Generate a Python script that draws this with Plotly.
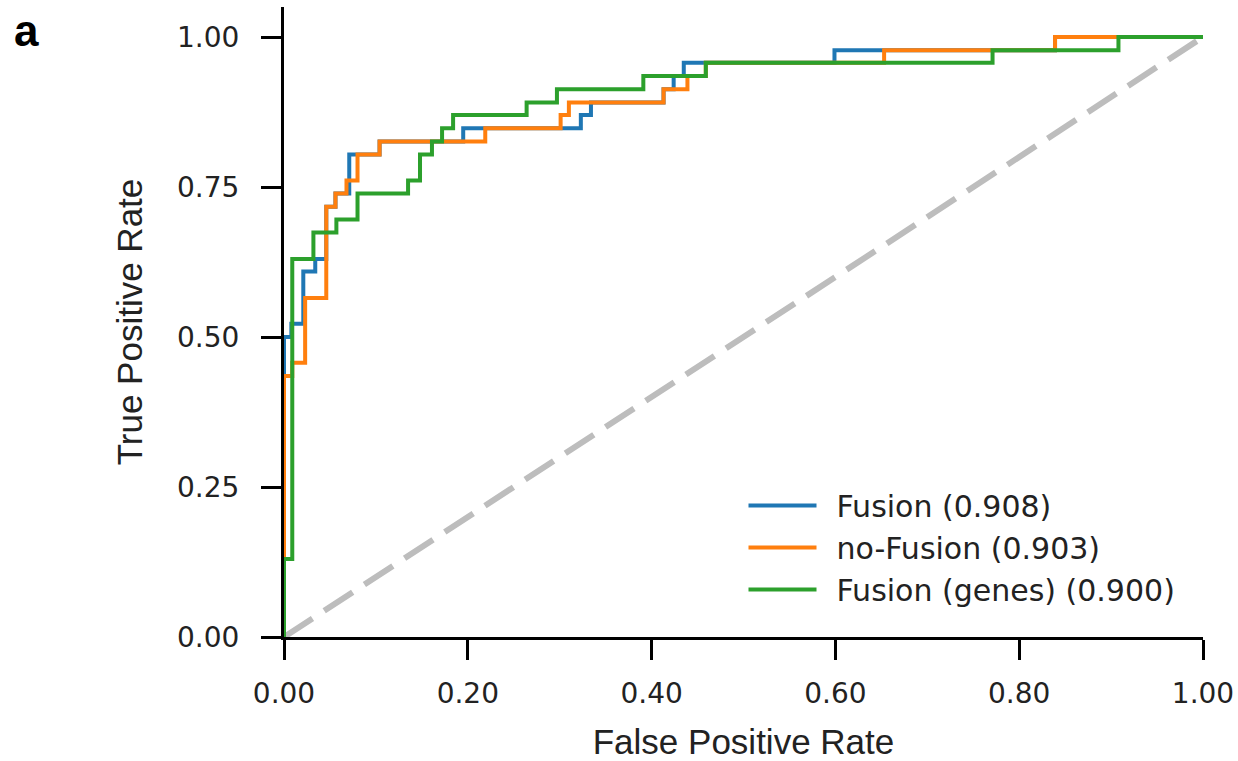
import plotly.graph_objects as go

# ROC step points (top of each vertical step), drawn with 'hv' shape
fusion_fpr = [0, 0, 0.008, 0.021, 0.034, 0.046, 0.056, 0.071, 0.104, 0.195, 0.323, 0.334, 0.413, 0.424, 0.435, 0.599, 0.839, 1.0]
fusion_tpr = [0, 0.500, 0.522, 0.609, 0.630, 0.717, 0.739, 0.804, 0.826, 0.848, 0.870, 0.891, 0.913, 0.935, 0.957, 0.978, 1.0, 1.0]

nofusion_fpr = [0, 0, 0.009, 0.023, 0.046, 0.056, 0.068, 0.080, 0.104, 0.219, 0.301, 0.310, 0.413, 0.439, 0.459, 0.653, 0.839, 1.0]
nofusion_tpr = [0, 0.435, 0.457, 0.565, 0.717, 0.739, 0.761, 0.804, 0.826, 0.848, 0.870, 0.891, 0.913, 0.935, 0.957, 0.978, 1.0, 1.0]

genes_fpr = [0, 0, 0.009, 0.032, 0.057, 0.080, 0.135, 0.148, 0.161, 0.172, 0.184, 0.264, 0.297, 0.391, 0.459, 0.771, 0.908, 1.0]
genes_tpr = [0, 0.130, 0.630, 0.674, 0.696, 0.739, 0.761, 0.804, 0.826, 0.848, 0.870, 0.891, 0.913, 0.935, 0.957, 0.978, 1.0, 1.0]

chance_x = [0, 1]
chance_y = [0, 1]

series_names = ["Fusion (0.908)", "no-Fusion (0.903)", "Fusion (genes) (0.900)"]
series_colors = ["#1f77b4", "#ff7f0e", "#2ca02c"]

tick_vals = [0, 0.25, 0.5, 0.75, 1.0]
tick_text_y = ["0.00", "0.25", "0.50", "0.75", "1.00"]
tick_vals_x = [0, 0.2, 0.4, 0.6, 0.8, 1.0]
tick_text_x = ["0.00", "0.20", "0.40", "0.60", "0.80", "1.00"]

fig = go.Figure()
fig.add_trace(go.Scatter(x=chance_x, y=chance_y, mode="lines",
                         line=dict(color="#bdbdbd", width=6, dash="34px,14px"),
                         showlegend=False, hoverinfo="skip"))
for xs, ys, name, col in zip([fusion_fpr, nofusion_fpr, genes_fpr],
                             [fusion_tpr, nofusion_tpr, genes_tpr],
                             series_names, series_colors):
    fig.add_trace(go.Scatter(x=xs, y=ys, mode="lines", name="\u2002" + name,
                             line=dict(color=col, width=4, shape="hv")))

axis_common = dict(showline=True, linewidth=3, linecolor="black", ticks="outside",
                   ticklen=20, tickwidth=3, tickcolor="black", showgrid=False,
                   zeroline=False, automargin=False,
                   tickfont=dict(family="DejaVu Sans", size=28, color="#222"))

fig.update_layout(
    width=1238, height=761,
    margin=dict(l=284, r=35, t=7, b=124),
    paper_bgcolor="white", plot_bgcolor="white",
    xaxis=dict(range=[0, 1], tickvals=tick_vals_x, ticktext=tick_text_x,
               title=dict(text="False Positive Rate", standoff=25,
                          font=dict(family="Liberation Sans", size=35, color="#222")),
               ticklabelstandoff=9, **axis_common),
    yaxis=dict(range=[0, 1.05], tickvals=tick_vals, ticktext=tick_text_y,
               title=dict(text="True Positive Rate", standoff=24,
                          font=dict(family="Liberation Sans", size=35, color="#222")),
               ticklabelstandoff=16, **axis_common),
    legend=dict(x=0.50, y=0.25, xanchor="left", yanchor="top",
                font=dict(family="DejaVu Sans", size=30, color="#222"),
                bgcolor="rgba(0,0,0,0)", itemwidth=68),
)
fig.add_annotation(text="<b>a</b>", xref="paper", yref="paper",
                   x=-0.2807, y=0.963, xanchor="center", yanchor="middle", showarrow=False,
                   font=dict(family="Liberation Sans", size=44, color="black"))

page_fix = ("document.documentElement.style.overflow='hidden';"
            "document.body.style.margin='0';"
            "document.body.style.overflow='hidden';"
            "document.body.style.fontSize='0';"
            "document.body.style.lineHeight='0';")

fig.write_html("out.html", config={"displayModeBar": False}, post_script=page_fix)
